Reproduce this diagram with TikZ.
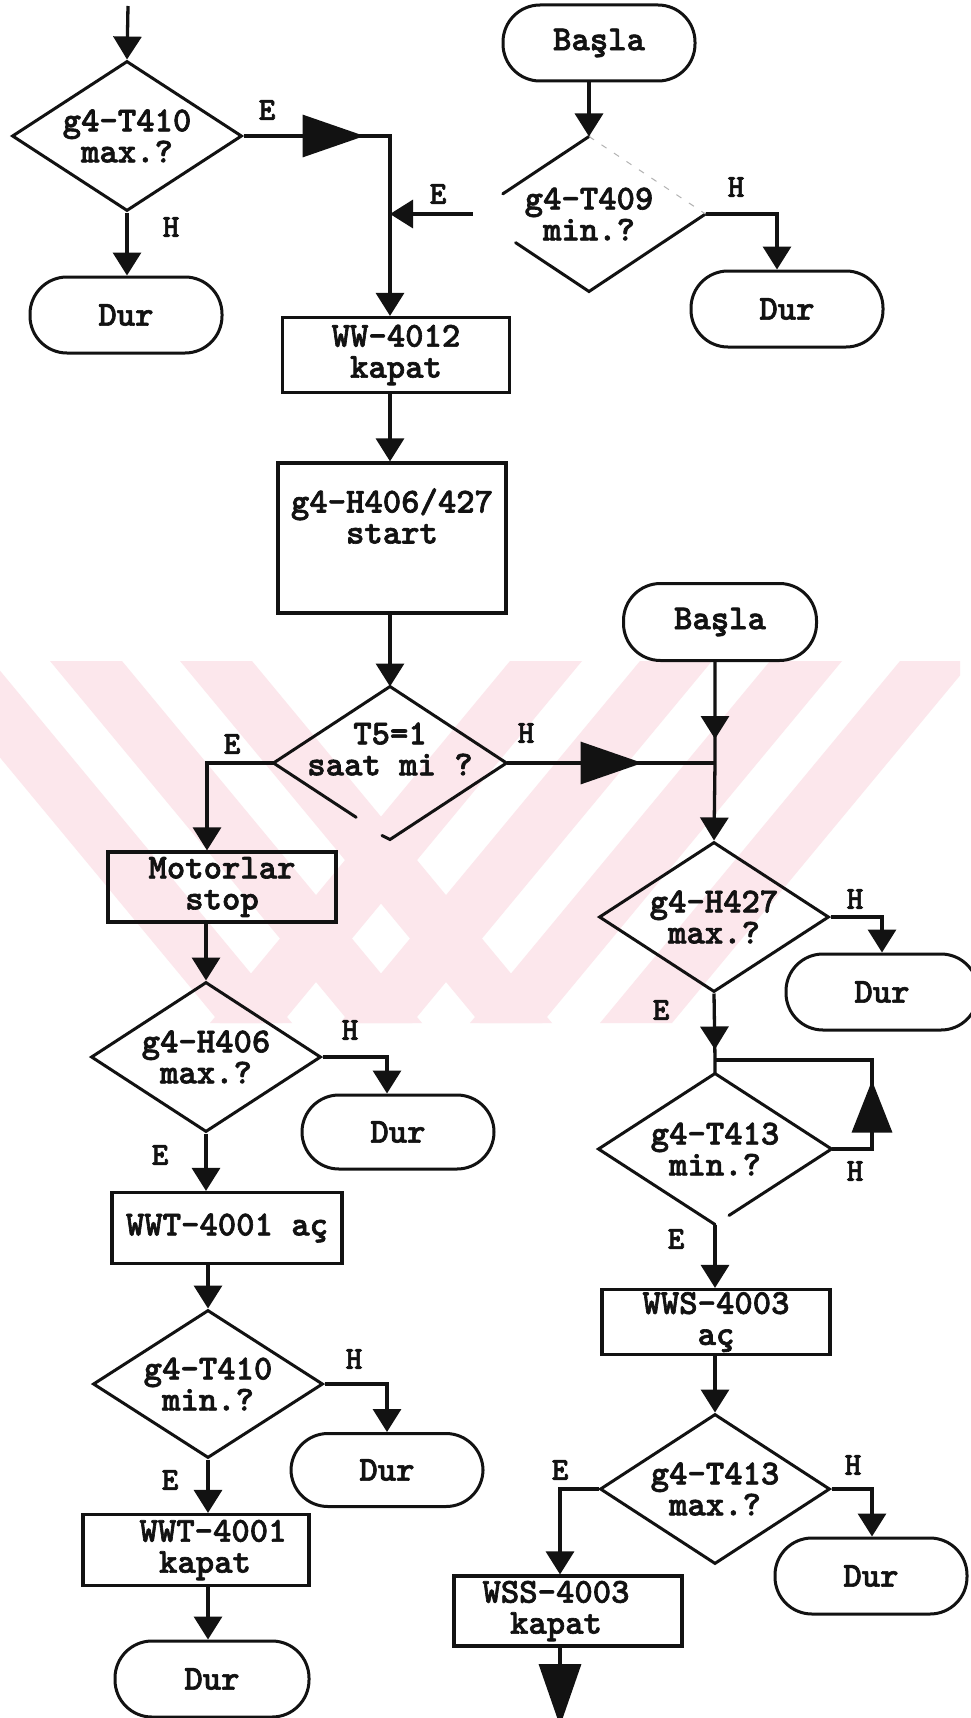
\documentclass[tikz,border=0pt]{standalone}
\usepackage{fontspec}
\newfontfamily\courfont[FakeBold=1.8]{lmmonolt10-bold.otf}
\usetikzlibrary{arrows.meta,shapes.geometric,decorations.markings,calc}

\definecolor{ink}{rgb}{0.07,0.07,0.07}
\definecolor{wm}{rgb}{0.99,0.905,0.925}

\tikzset{
  SmallTri/.tip={Triangle[length=23pt,width=28pt]},
  BigTri/.tip={Triangle[length=62pt,width=42pt]},
  UpTri/.tip={Triangle[length=52pt,width=40pt]},
  txt/.style={font=\courfont\fontsize{35}{31}\selectfont, text=ink},
  lbl/.style={font=\courfont\fontsize{32}{32}\selectfont, text=ink, inner sep=0pt},
  dec/.style={txt, diamond, shape aspect=1.5, minimum width=230pt, minimum height=150pt,
              inner sep=-25pt, align=center, draw=ink, line width=3pt},
  decopen/.style={dec, draw=none},
  edge/.style={draw=ink, line width=3pt, line cap=round},
  term/.style={txt, rectangle, rounded corners=37pt, minimum width=192pt, minimum height=76pt,
               draw=ink, line width=3pt},
  proc/.style={txt, rectangle, minimum width=228pt, minimum height=70pt, inner sep=0pt,
               align=center, draw=ink, line width=3.2pt},
  line/.style={draw=ink, line width=3.3pt},
  flow/.style={line, -{SmallTri}},
  midsmall/.style={postaction={decorate,decoration={markings,
      mark=at position #1 with {\arrow{SmallTri}}}}},
  midbig/.style={postaction={decorate,decoration={markings,
      mark=at position #1 with {\arrow{BigTri}}}}},
  midup/.style={postaction={decorate,decoration={markings,
      mark=at position #1 with {\arrow{UpTri}}}}},
}

\begin{document}
\begin{tikzpicture}[x=1pt,y=-1pt]
\useasboundingbox (0,0) rectangle (971,1718);
\clip (0,0) rectangle (971,1718);
\fill[white] (0,0) rectangle (971,1718);

% pale background stamp band
\begin{scope}
  \clip (0,661) rectangle (960,1023);
  \foreach \s in {-80,50,180}
    \fill[wm] (\s,661) -- ++(72,0) -- ++(300,362) -- ++(-72,0) -- cycle;
  \foreach \s in {510,640,770,900}
    \fill[wm] (\s,661) -- ++(72,0) -- ++(-300,362) -- ++(-72,0) -- cycle;
\end{scope}

% ---------- upper left: T410 max check ----------
\coordinate (in) at (128,6);
\node[dec] (d1) at (127,136) {g4-T410\\max.?};
\node[term] (dur1) at (126,315) {Dur};

% ---------- upper right: start and T409 min check ----------
\node[term] (basla1) at (599,43) {Başla};
\node[decopen, minimum height=152pt] (d2) at (589,214) {g4-T409\\min.?};
\node[term] (dur2) at (787,309) {Dur};

% ---------- main column ----------
\node[proc, minimum width=227pt, minimum height=75pt] (ww) at (396,355) {WW-4012\\kapat};
\node[proc, minimum height=150pt] (hs) at (392,538) {};
\node[txt, align=center, inner sep=0pt] (hstext) at (392,516) {g4-H406/427\\start};
\node[decopen] (d3) at (390,763) {};
\node[txt, align=center, inner sep=0pt] (d3text) at (390,749) {T5=1\\saat mi ?};

% ---------- left column ----------
\node[proc] (mot) at (222,887) {Motorlar\\stop};
\node[dec] (d8) at (206,1057) {g4-H406\\max.?};
\node[term, minimum height=74pt] (dur5) at (398,1132) {Dur};
\node[proc, minimum width=230pt, minimum height=71pt] (wwta) at (227,1228) {WWT-4001 aç};
\node[dec, minimum height=148pt] (d9) at (208,1384) {g4-T410\\min.?};
\node[term, minimum height=73pt] (dur6) at (387,1470) {Dur};
\node[proc, minimum width=226pt, minimum height=71pt] (wwtk) at (196,1550)
  {\hspace*{34pt}WWT-4001\\\hspace*{18pt}kapat};
\node[term, minimum width=194pt] (dur7) at (212,1679) {Dur};

% ---------- right column ----------
\node[term, minimum width=193pt, minimum height=77pt] (basla2) at (720,622) {Başla};
\coordinate (jn) at (715,763);
\node[dec] (d4) at (714,917) {g4-H427\\max.?};
\node[term] (dur3) at (882,992) {Dur};
\coordinate (j2) at (715,1060);
\node[decopen, minimum height=148pt] (d5) at (715,1149) {g4-T413\\min.?};
\node[proc, minimum height=65pt] (wws) at (716,1322) {WWS-4003\\aç};
\node[dec] (d6) at (715,1489) {g4-T413\\max.?};
\node[term] (dur4) at (871,1576) {Dur};
\node[proc, minimum width=228pt] (wss) at (568,1611) {WSS-4003\hspace*{24pt}\\kapat\hspace*{24pt}};

% ---------- partly printed diamond outlines ----------
\draw[edge] (d2.north) -- ($(d2.north)!0.74!(d2.west)$);
\draw[edge] ($(d2.west)!0.37!(d2.south)$) -- (d2.south) -- (d2.east);
\draw[black!30, line width=1pt, dash pattern=on 6pt off 9pt] (d2.north) -- (d2.east);

\draw[edge] (d3.west) -- (d3.north) -- (d3.east) -- (d3.south) -- ++(-8,-4);
\draw[edge] (d3.west) -- ($(d3.west)!0.71!(d3.south)$);

\draw[edge] (d5.south) -- (d5.west) -- (d5.north) -- (d5.east) -- ($(d5.east)!0.88!(d5.south)$);

% ---------- junction points ----------
\coordinate (c1) at (390,136);
\coordinate (c2) at (777,214);
\coordinate (c3) at (207,763);
\coordinate (c4) at (387,1057);
\coordinate (c5) at (387,1384);
\coordinate (c6) at (882,917);
\coordinate (c7) at (872,1149);
\coordinate (c8) at (872,1060);
\coordinate (c9) at (872,1489);
\coordinate (c10) at (560,1489);
\coordinate (out) at (560,1726);

% ---------- connectors ----------
\draw[flow] (in) -- (d1.north);
\draw[flow] (d1.south) -- (d1.south |- dur1.north);
\draw[line, midbig=121pt, -{SmallTri}] (d1.east) -- (c1) -- (c1 |- ww.north);
\draw[flow] (d2.north |- basla1.south) -- (d2.north);
\draw[flow] (d2.west) -- (d2.west -| c1);
\draw[flow] (d2.east) -- (c2) -- (c2 |- dur2.north);
\draw[flow] (ww.south -| c1) -- (hs.north -| c1);
\draw[flow] (hs.south -| d3.north) -- (d3.north);
\draw[flow] (d3.west) -- (c3) -- (c3 |- mot.north);
\draw[line, midbig=136pt] (d3.east) -- (jn);
\draw[line, midsmall=77pt, -{SmallTri}] (jn |- basla2.south) -- (jn) -- (d4.north);

\draw[flow] (mot.south -| d8.north) -- (d8.north);
\draw[flow] (d8.east) -- (c4) -- (c4 |- dur5.north);
\draw[flow] (d8.south) -- (d8.south |- wwta.north);
\draw[flow] (wwta.south -| d9.north) -- (d9.north);
\draw[flow] (d9.east) -- (c5) -- (c5 |- dur6.north);
\draw[flow] (d9.south) -- (d9.south |- wwtk.north);
\draw[flow] (wwtk.south -| d9.south) -- (d9.south |- dur7.north);

\draw[flow] (d4.east) -- (c6) -- (c6 |- dur3.north);
\draw[line, midsmall=56pt] (d4.south) -- (j2) -- (d5.north);
\draw[line, midup=109pt] (d5.east) -- (c7) -- (c8) -- (j2);
\draw[flow] (d5.south) -- (d5.south |- wws.north);
\draw[flow] (wws.south -| d6.north) -- (d6.north);
\draw[flow] (d6.east) -- (c9) -- (c9 |- dur4.north);
\draw[flow] (d6.west) -- (c10) -- (c10 |- wss.north);
\draw[line, -{BigTri}] (wss.south -| c10) -- (out);

% ---------- branch labels ----------
\node[lbl] (e1) at (267,110) {E};
\node[lbl] (h1) at (171,227) {H};
\node[lbl] (e2) at (438,194) {E};
\node[lbl] (h2) at (736,187) {H};
\node[lbl] (e3) at (232,744) {E};
\node[lbl] (h3) at (526,733) {H};
\node[lbl] (h4) at (855,899) {H};
\node[lbl] (e4) at (661,1010) {E};
\node[lbl] (h5) at (350,1030) {H};
\node[lbl] (e5) at (160,1155) {E};
\node[lbl] (h6) at (354,1359) {H};
\node[lbl] (e6) at (170,1480) {E};
\node[lbl] (h7) at (855,1171) {H};
\node[lbl] (e7) at (676,1239) {E};
\node[lbl] (h8) at (853,1465) {H};
\node[lbl] (e8) at (560,1470) {E};
\end{tikzpicture}
\end{document}
